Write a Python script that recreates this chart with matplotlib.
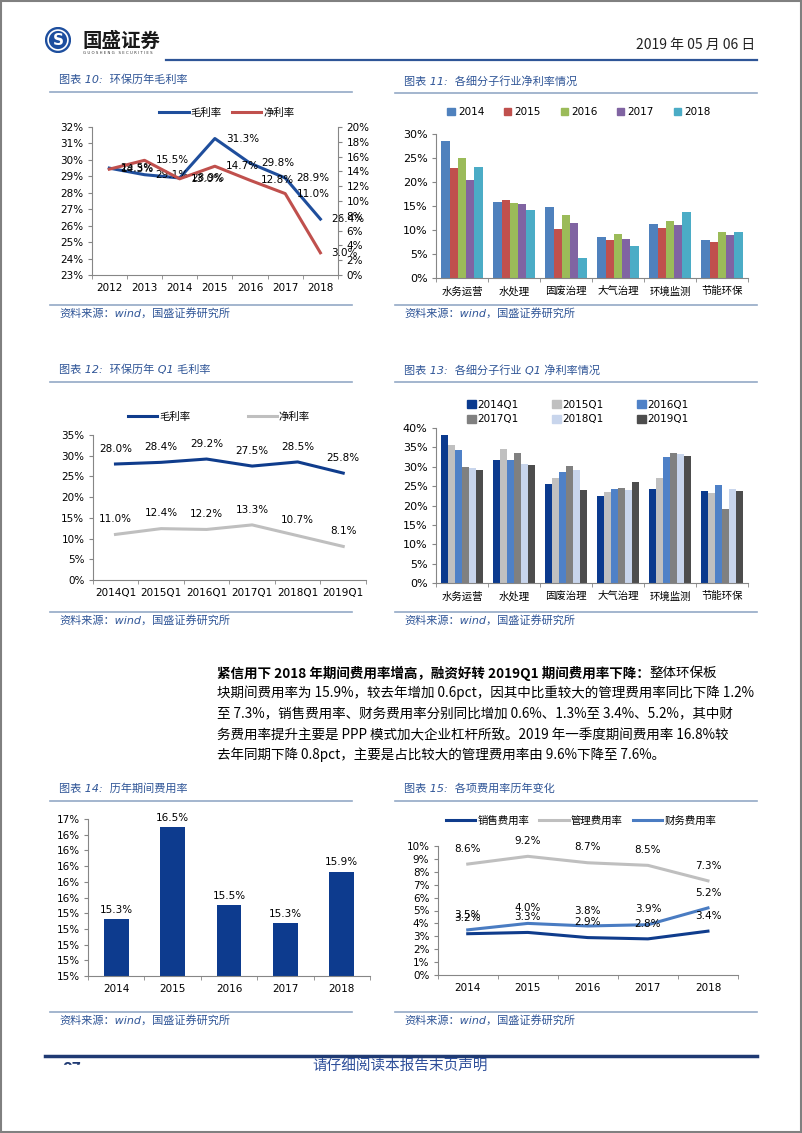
import numpy as np
import matplotlib
matplotlib.use('Agg')
import matplotlib.pyplot as plt
from matplotlib.ticker import FuncFormatter, MultipleLocator
from matplotlib.patches import Rectangle, Circle
from matplotlib.lines import Line2D
from matplotlib.patches import Patch

W, H = 802, 1133
plt.rcParams['font.family'] = ['DejaVu Sans', 'Noto Sans CJK SC']
CJK = ['Noto Sans CJK SC', 'DejaVu Sans']

# ---- data ----
years_a = ['2012', '2013', '2014', '2015', '2016', '2017', '2018']
gross_a = [29.5, 29.1, 28.9, 31.3, 29.8, 28.9, 26.4]
net_a = [14.3, 15.5, 13.0, 14.7, 12.8, 11.0, 3.0]

sectors = ['水务运营', '水处理', '固废治理', '大气治理', '环境监测', '节能环保']
net_years = ['2014', '2015', '2016', '2017', '2018']
net_2014 = [28.5, 15.8, 14.8, 8.5, 11.2, 7.9]
net_2015 = [22.9, 16.2, 10.2, 7.9, 10.4, 7.5]
net_2016 = [25.0, 15.6, 13.1, 9.1, 11.9, 9.6]
net_2017 = [20.5, 15.4, 11.4, 8.1, 11.0, 9.0]
net_2018 = [23.1, 14.2, 4.2, 6.6, 13.8, 9.6]

quarters = ['2014Q1', '2015Q1', '2016Q1', '2017Q1', '2018Q1', '2019Q1']
gross_q = [28.0, 28.4, 29.2, 27.5, 28.5, 25.8]
net_q = [11.0, 12.4, 12.2, 13.3, 10.7, 8.1]

q1_2014 = [38.1, 31.8, 25.6, 22.5, 24.3, 23.7]
q1_2015 = [35.5, 34.5, 27.0, 23.6, 27.0, 23.3]
q1_2016 = [34.2, 31.8, 28.6, 24.2, 32.6, 25.3]
q1_2017 = [30.0, 33.5, 30.2, 24.5, 33.6, 19.2]
q1_2018 = [29.7, 30.7, 29.2, 23.9, 33.2, 24.3]
q1_2019 = [29.2, 30.4, 24.1, 26.0, 32.9, 23.8]

exp_years = ['2014', '2015', '2016', '2017', '2018']
period_exp = [15.32, 16.5, 15.5, 15.27, 15.93]
sales_exp = [3.2, 3.3, 2.9, 2.8, 3.4]
admin_exp = [8.6, 9.2, 8.7, 8.5, 7.3]
fin_exp = [3.5, 4.0, 3.8, 3.9, 5.2]

TITLE_C = '#2F5597'
LINE_C = '#94A9C6'
AX_C = '#868686'

fig = plt.figure(figsize=(W / 100, H / 100), dpi=100)


def box(x0, y0, x1, y1):
    return fig.add_axes([x0 / W, 1 - y1 / H, (x1 - x0) / W, (y1 - y0) / H])


def ftext(x, y, s, **kw):
    return fig.text(x / W, 1 - y / H, s, **kw)


def hline(x0, x1, y, color, lw):
    fig.add_artist(Line2D([x0 / W, x1 / W], [1 - y / H, 1 - y / H], color=color, lw=lw))


def frame(title, x0, x1, y_title, y_src):
    ftext(x0 + 9, y_title, title, color=TITLE_C, fontsize=8, style='italic', va='center')
    hline(x0, x1, y_title + 12, LINE_C, 1.2)
    hline(x0, x1, y_src - 8, LINE_C, 1.2)
    ftext(x0 + 9, y_src, '资料来源：wind，国盛证券研究所', color=TITLE_C, fontsize=8,
          style='italic', va='center')


def pct(v, p):
    return f'{v:.0f}%'


def style(ax, cats, fs=7.5):
    n = len(cats)
    for s in ['top', 'right']:
        ax.spines[s].set_visible(False)
    for s in ['left', 'bottom']:
        ax.spines[s].set_color(AX_C)
        ax.spines[s].set_linewidth(0.8)
    ax.set_xlim(-0.5, n - 0.5)
    ax.set_xticks(range(n))
    ax.set_xticklabels(cats)
    ax.set_xticks(np.arange(n + 1) - 0.5, minor=True)
    ax.tick_params(axis='x', which='major', length=0, pad=6, labelsize=fs)
    ax.tick_params(axis='x', which='minor', length=3, color=AX_C)
    ax.tick_params(axis='y', length=3, color=AX_C, labelsize=fs, pad=3)
    ax.yaxis.set_major_formatter(FuncFormatter(pct))
    ax.patch.set_alpha(0)


# ---- header ----
lax = box(45, 27, 71, 53)
lax.set_xlim(-1.05, 1.05)
lax.set_ylim(-1.05, 1.05)
lax.set_aspect('equal')
lax.axis('off')
lax.add_patch(Circle((0, 0), 1, color='#1D4E9E'))
lax.add_patch(Circle((0, 0), 0.8, fill=False, ec='white', lw=1.2))
lax.text(0, -0.05, 'S', color='white', fontsize=11, fontweight='bold', ha='center', va='center')
ftext(83, 41, '国盛证券', fontsize=14, fontweight='bold', color='#1a1a1a', va='center', family=CJK)
ftext(83, 53, 'G U O S H E N G   S E C U R I T I E S', fontsize=2.8, color='#333333', va='center')
hline(166, 757, 60, '#2E5597', 1.6)
ftext(755, 45, '2019 年 05 月 06 日', ha='right', va='center', fontsize=10, color='#222222', family=CJK)

# ---- chart 10 ----
frame('图表 10:  环保历年毛利率', 50, 352, 80, 313)
ax = box(91.7, 127, 338, 275)
style(ax, years_a)
ax.set_ylim(23, 32)
ax.yaxis.set_major_locator(MultipleLocator(1))
ax2 = ax.twinx()
ax2.set_ylim(0, 20)
ax2.yaxis.set_major_locator(MultipleLocator(2))
ax2.yaxis.set_major_formatter(FuncFormatter(pct))
for s in ['top', 'left', 'bottom']:
    ax2.spines[s].set_visible(False)
ax2.spines['right'].set_color(AX_C)
ax2.spines['right'].set_linewidth(0.8)
ax2.tick_params(axis='y', length=3, color=AX_C, labelsize=7.5, pad=3)
x = np.arange(len(years_a))
ax.plot(x, gross_a, color='#1F4E9C', lw=2.2)
ax2.plot(x, net_a, color='#C0504D', lw=2.2)
for xi, v in zip(x, gross_a):
    ax.annotate(f'{v:.1f}%', (xi, v), xytext=(8, 0), textcoords='offset points',
                va='center', ha='left', fontsize=7.5, annotation_clip=False)
for xi, v in zip(x, net_a):
    ax2.annotate(f'{v:.1f}%', (xi, v), xytext=(8, 0), textcoords='offset points',
                 va='center', ha='left', fontsize=7.5, annotation_clip=False)
fig.legend([Line2D([], [], color='#1F4E9C', lw=2.2), Line2D([], [], color='#C0504D', lw=2.2)],
           ['毛利率', '净利率'], loc='center', bbox_to_anchor=(227 / W, 1 - 113 / H), ncol=2,
           frameon=False, fontsize=7.5, handlelength=2.8, handletextpad=0.2, columnspacing=1.0)

# ---- chart 11 ----
frame('图表 11:  各细分子行业净利率情况', 395, 757, 81, 313)
ax = box(436, 134, 748, 278)
style(ax, sectors, fs=8)
ax.tick_params(axis='x', which='major', labelsize=7.5)
ax.set_ylim(0, 30)
ax.yaxis.set_major_locator(MultipleLocator(5))
cols11 = ['#4F81BD', '#C0504D', '#9BBB59', '#8064A2', '#4BACC6']
series11 = [net_2014, net_2015, net_2016, net_2017, net_2018]
xs = np.arange(len(sectors))
for i, (vals, c) in enumerate(zip(series11, cols11)):
    ax.bar(xs + (i - 2) * 0.16, vals, width=0.16, color=c)
fig.legend([Patch(color=c) for c in cols11], net_years, loc='center',
           bbox_to_anchor=(579 / W, 1 - 112 / H), ncol=5, frameon=False, fontsize=7.5,
           handlelength=0.7, handleheight=0.7, handletextpad=0.3, columnspacing=1.9)

# ---- chart 12 ----
frame('图表 12:  环保历年 Q1 毛利率', 50, 352, 370, 620)
ax = box(92.7, 435, 366, 580)
style(ax, quarters)
ax.set_ylim(0, 35)
ax.yaxis.set_major_locator(MultipleLocator(5))
x = np.arange(len(quarters))
ax.plot(x, gross_q, color='#0F3C8C', lw=2.2)
ax.plot(x, net_q, color='#BFBFBF', lw=2.2)
for series in (gross_q, net_q):
    for xi, v in zip(x, series):
        ax.annotate(f'{v:.1f}%', (xi, v), xytext=(0, 11), textcoords='offset points',
                    va='center', ha='center', fontsize=7.5, annotation_clip=False)
fig.legend([Line2D([], [], color='#0F3C8C', lw=2.2), Line2D([], [], color='#BFBFBF', lw=2.2)],
           ['毛利率', '净利率'], loc='center', bbox_to_anchor=(219 / W, 1 - 417 / H), ncol=2,
           frameon=False, fontsize=7.5, handlelength=2.8, handletextpad=0.2, columnspacing=5.5)

# ---- chart 13 ----
frame('图表 13:  各细分子行业 Q1 净利率情况', 395, 757, 370, 620)
ax = box(436, 428, 748, 583)
style(ax, sectors, fs=8)
ax.tick_params(axis='x', which='major', labelsize=7.5)
ax.set_ylim(0, 40)
ax.yaxis.set_major_locator(MultipleLocator(5))
cols13 = ['#0B3A8E', '#C0C0C0', '#4F81C7', '#808080', '#C8D5EC', '#4D4D4D']
series13 = [q1_2014, q1_2015, q1_2016, q1_2017, q1_2018, q1_2019]
for i, (vals, c) in enumerate(zip(series13, cols13)):
    ax.bar(xs + (i - 2.5) * 0.135, vals, width=0.135, color=c)
order = [0, 3, 1, 4, 2, 5]
fig.legend([Patch(color=cols13[i]) for i in order], [quarters[i] for i in order], loc='center',
           bbox_to_anchor=(578 / W, 1 - 412 / H), ncol=3, frameon=False, fontsize=7.5,
           handlelength=0.8, handleheight=0.8, handletextpad=0.2, columnspacing=3.2,
           labelspacing=0.45)

# ---- paragraph ----
body_y = [673, 693, 714, 735, 755]
bold_part = '紧信用下 2018 年期间费用率增高，融资好转 2019Q1 期间费用率下降：'
body_lines = [
    '整体环保板',
    '块期间费用率为 15.9%，较去年增加 0.6pct，因其中比重较大的管理费用率同比下降 1.2%',
    '至 7.3%，销售费用率、财务费用率分别同比增加 0.6%、1.3%至 3.4%、5.2%，其中财',
    '务费用率提升主要是 PPP 模式加大企业杠杆所致。2019 年一季度期间费用率 16.8%较',
    '去年同期下降 0.8pct，主要是占比较大的管理费用率由 9.6%下降至 7.6%。',
]
bt = ftext(217, body_y[0], bold_part, fontsize=9.75, fontweight='bold', va='center', family=CJK)
renderer = fig.canvas.get_renderer()
bb = bt.get_window_extent(renderer)
ftext(bb.x1, body_y[0], body_lines[0], fontsize=9.75, va='center', family=CJK)
for yy, line in zip(body_y[1:], body_lines[1:]):
    ftext(217, yy, line, fontsize=9.75, va='center', family=CJK)

# ---- chart 14 ----
frame('图表 14:  历年期间费用率', 50, 352, 789, 1020)
ax = box(88, 819, 370, 976)
style(ax, exp_years)
ax.set_ylim(14.6, 16.6)
ax.set_yticks(np.arange(14.6, 16.61, 0.2))
x = np.arange(len(exp_years))
ax.bar(x, period_exp, width=0.44, color='#0D3B8E')
for xi, v in zip(x, period_exp):
    ax.annotate(f'{v:.1f}%', (xi, v), xytext=(0, 3), textcoords='offset points',
                va='bottom', ha='center', fontsize=7.5, annotation_clip=False)

# ---- chart 15 ----
frame('图表 15:  各项费用率历年变化', 395, 757, 789, 1020)
ax = box(437.7, 846, 738, 975)
style(ax, exp_years)
ax.set_ylim(0, 10)
ax.yaxis.set_major_locator(MultipleLocator(1))
cols15 = ['#0F3C8C', '#BFBFBF', '#4A7CC2']
names15 = ['销售费用率', '管理费用率', '财务费用率']
for vals, c in zip([sales_exp, admin_exp, fin_exp], cols15):
    ax.plot(x, vals, color=c, lw=2.2)
    for xi, v in zip(x, vals):
        ax.annotate(f'{v:.1f}%', (xi, v), xytext=(0, 11), textcoords='offset points',
                    va='center', ha='center', fontsize=7.5, annotation_clip=False)
fig.legend([Line2D([], [], color=c, lw=2.2) for c in cols15], names15, loc='center',
           bbox_to_anchor=(581 / W, 1 - 821 / H), ncol=3, frameon=False, fontsize=7.5,
           handlelength=2.8, handletextpad=0.2, columnspacing=1.0)

# ---- footer ----
hline(45, 757, 1056, '#1F3A73', 2.5)
ftext(62, 1068, '07', fontsize=10, fontweight='bold', color='#1F3A73', va='center')
fig.add_artist(Rectangle((55 / W, 1 - 1078 / H), 50 / W, 13 / H, transform=fig.transFigure,
                         color='white', zorder=10))
ftext(400, 1066, '请仔细阅读本报告末页声明', ha='center', va='center', fontsize=10.5,
      color='#2E4F9A', style='italic', family=CJK)

fig.add_artist(Rectangle((0.001, 0.001), 0.998, 0.998, transform=fig.transFigure,
                         fill=False, ec='#808080', lw=1.5))

fig.savefig('out.png', dpi=100)
